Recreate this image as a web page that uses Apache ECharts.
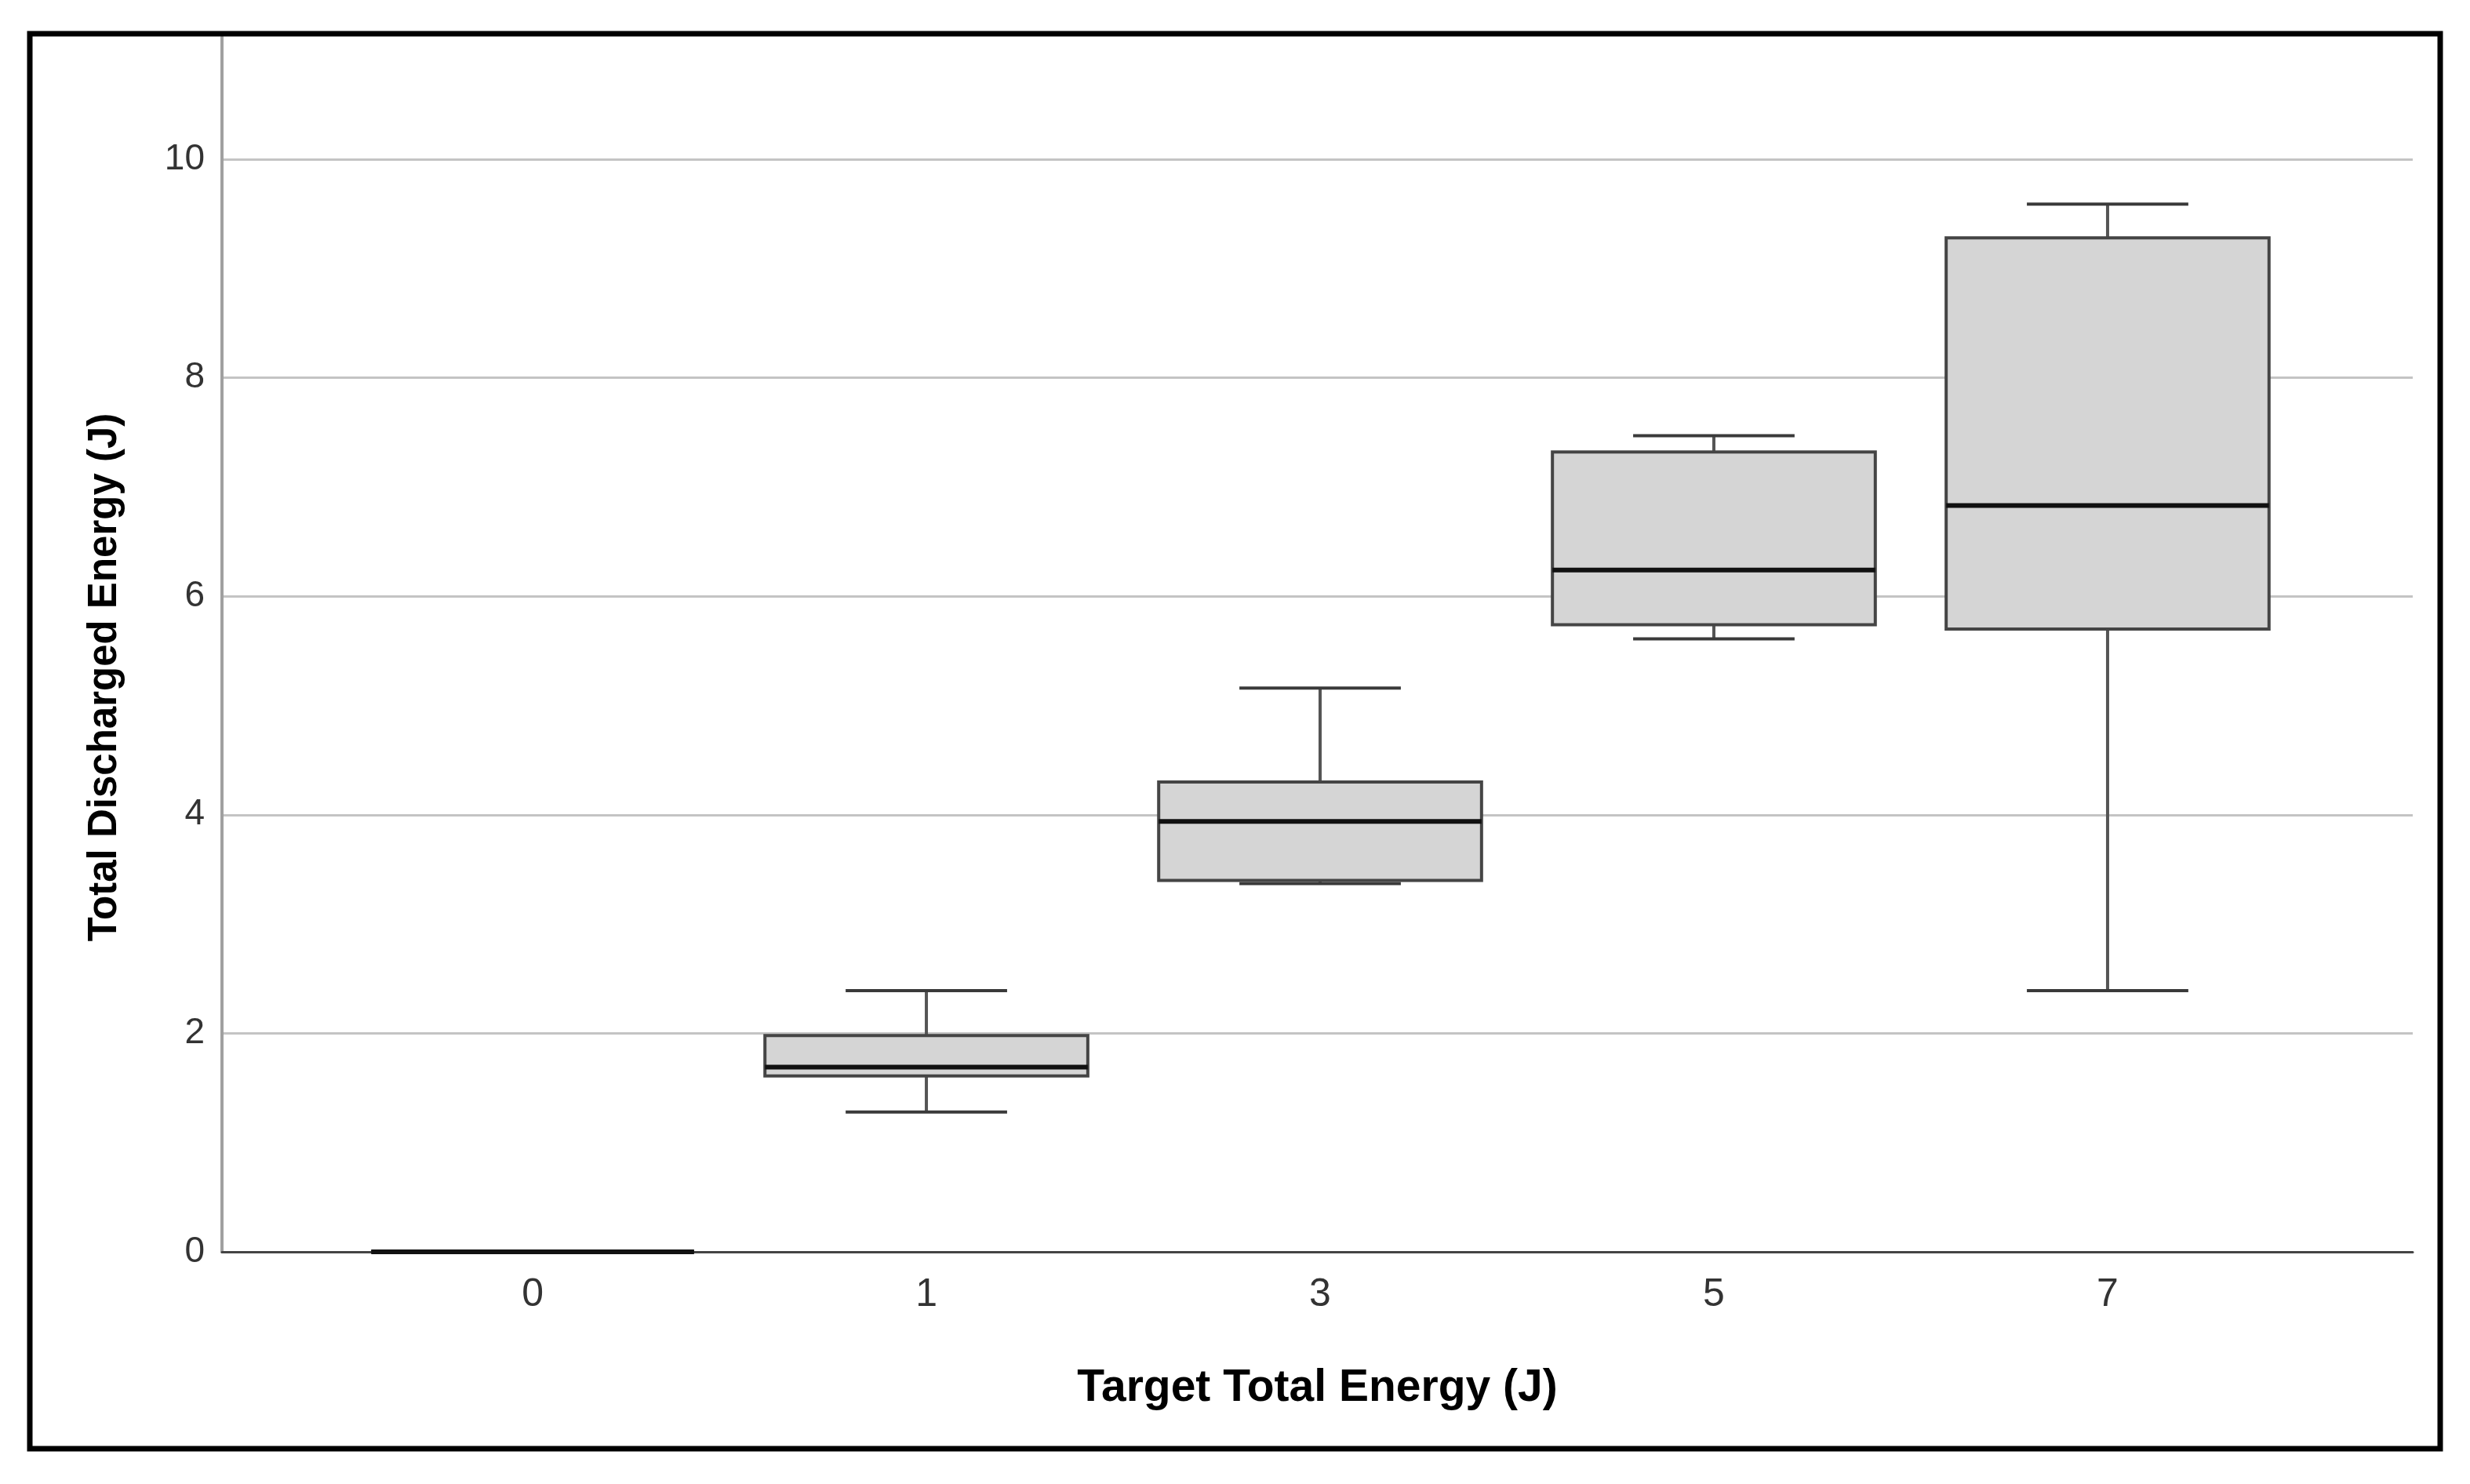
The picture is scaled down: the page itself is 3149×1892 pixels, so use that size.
<!DOCTYPE html>
<html>
<head>
<meta charset="utf-8">
<script src="https://cdn.jsdelivr.net/npm/echarts@6/dist/echarts.min.js"></script>
<style>
  html, body { margin: 0; padding: 0; background: #ffffff; }
  #chart { width: 3149px; height: 1892px; }
</style>
</head>
<body>
<div id="chart"></div>
<script>
// ---- data ----
const categories   = ['0', '1', '3', '5', '7'];
const whiskerLow   = [0, 1.28, 3.37, 5.61, 2.39];
const quartile1    = [0, 1.61, 3.40, 5.74, 5.70];
const medians      = [0, 1.69, 3.94, 6.24, 6.83];
const quartile3    = [0, 1.98, 4.30, 7.32, 9.28];
const whiskerHigh  = [0, 2.39, 5.16, 7.47, 9.59];
const yTicks       = [0, 2, 4, 6, 8, 10];

const xTitle = 'Target Total Energy (J)';
const yTitle = 'Total Discharged Energy (J)';

const boxData = categories.map((c, i) => [i, whiskerLow[i], quartile1[i], medians[i], quartile3[i], whiskerHigh[i]]);

const chart = echarts.init(document.getElementById('chart'), null, { renderer: 'canvas', devicePixelRatio: 1 });

const FONT = '"Liberation Sans", Arial, sans-serif';

function renderBox(params, api) {
  const i = api.value(0);
  const lo = api.coord([i, api.value(1)]);
  const q1 = api.coord([i, api.value(2)]);
  const md = api.coord([i, api.value(3)]);
  const q3 = api.coord([i, api.value(4)]);
  const hi = api.coord([i, api.value(5)]);
  const unit = api.size([1, 0])[0];
  const boxW = unit * 0.82;
  const capW = unit * 0.41;
  const cx = md[0];
  const children = [];
  // whiskers
  children.push({ type: 'line', shape: { x1: cx, y1: hi[1], x2: cx, y2: q3[1] },
    style: { stroke: '#555555', lineWidth: 4 } });
  children.push({ type: 'line', shape: { x1: cx, y1: q1[1], x2: cx, y2: lo[1] },
    style: { stroke: '#555555', lineWidth: 4 } });
  children.push({ type: 'line', shape: { x1: cx - capW / 2, y1: hi[1], x2: cx + capW / 2, y2: hi[1] },
    style: { stroke: '#3a3a3a', lineWidth: 4 } });
  children.push({ type: 'line', shape: { x1: cx - capW / 2, y1: lo[1], x2: cx + capW / 2, y2: lo[1] },
    style: { stroke: '#3a3a3a', lineWidth: 4 } });
  // box
  children.push({ type: 'rect', shape: { x: cx - boxW / 2, y: q3[1], width: boxW, height: q1[1] - q3[1] },
    style: { fill: '#d5d5d5', stroke: '#454545', lineWidth: 4 } });
  // median
  children.push({ type: 'line', shape: { x1: cx - boxW / 2, y1: md[1], x2: cx + boxW / 2, y2: md[1] },
    style: { stroke: '#111111', lineWidth: 6 } });
  return { type: 'group', children };
}

const option = {
  backgroundColor: '#ffffff',
  animation: false,
  graphic: [{
    type: 'rect', silent: true, z: 100,
    shape: { x: 38, y: 43, width: 3073, height: 1804 },
    style: { fill: 'none', stroke: '#000000', lineWidth: 7 }
  }],
  grid: { left: 283, right: 73, top: 47, bottom: 296, containLabel: false },
  xAxis: {
    type: 'value',
    min: -0.789,
    max: 4.775,
    name: xTitle,
    nameLocation: 'middle',
    nameGap: 146,
    nameTextStyle: { fontFamily: FONT, fontWeight: 'bold', fontSize: 57, color: '#000000' },
    axisLine: { show: true, onZero: false, lineStyle: { color: '#444444', width: 3 } },
    axisTick: { show: false },
    splitLine: { show: false },
    axisLabel: {
      customValues: [0, 1, 2, 3, 4],
      formatter: v => categories[Math.round(v)],
      fontFamily: FONT, fontSize: 50, color: '#333333', margin: 30
    }
  },
  yAxis: {
    type: 'value',
    min: 0,
    max: 11.12,
    interval: 2,
    name: yTitle,
    nameLocation: 'middle',
    nameRotate: 90,
    nameGap: 124,
    nameTextStyle: { fontFamily: FONT, fontWeight: 'bold', fontSize: 51, color: '#000000', padding: [0, 84, 0, 0] },
    axisLine: { show: true, onZero: false, lineStyle: { color: '#a0a0a0', width: 4 } },
    axisTick: { show: false, customValues: yTicks },
    splitLine: { show: true, lineStyle: { color: '#c4c4c4', width: 3 } },
    axisLabel: {
      customValues: yTicks,
      fontFamily: FONT, fontSize: 46, color: '#333333', margin: 22
    }
  },
  series: [{
    type: 'custom',
    renderItem: renderBox,
    encode: { x: 0, y: [1, 2, 3, 4, 5] },
    data: boxData,
    z: 5
  }]
};

chart.setOption(option);
</script>
</body>
</html>
